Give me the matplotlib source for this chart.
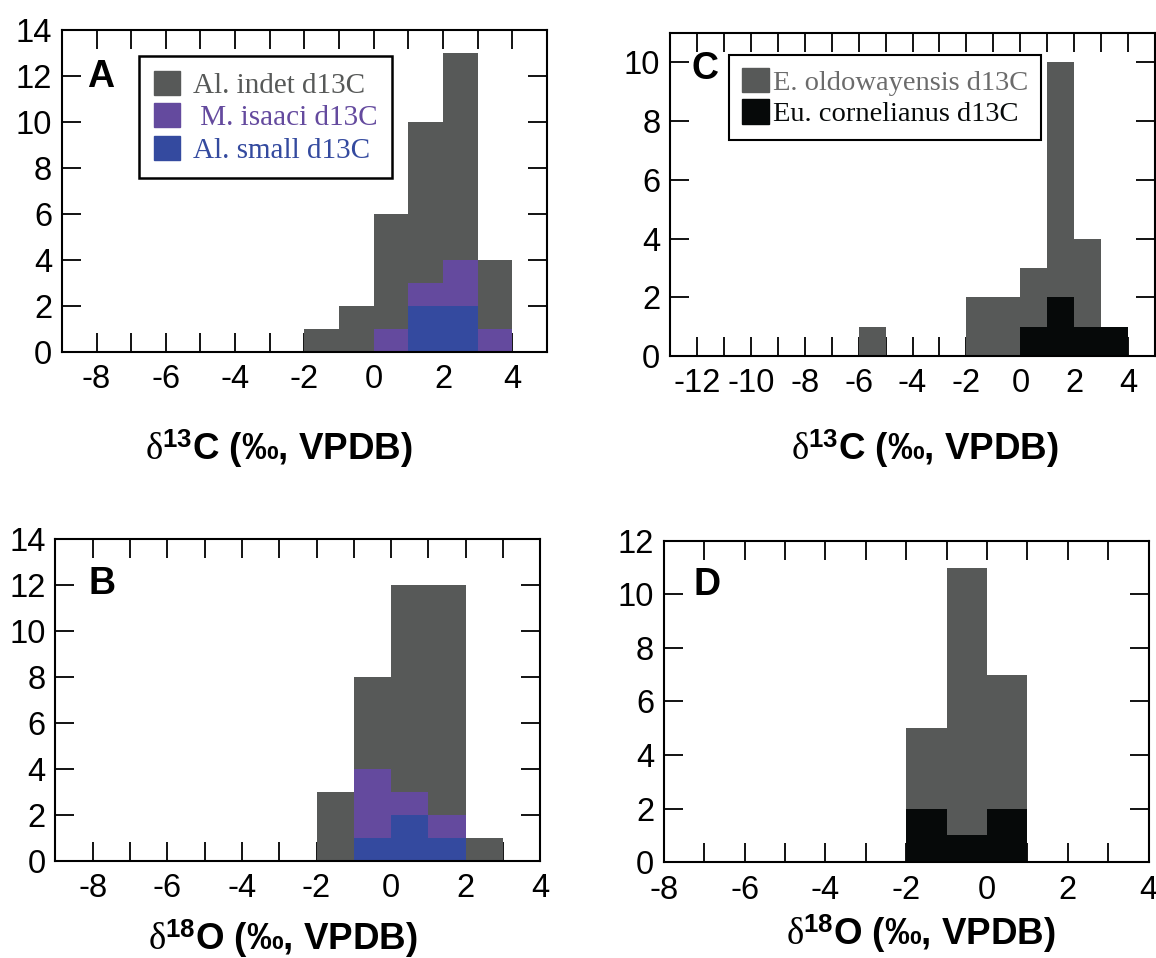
import matplotlib
matplotlib.use('Agg')
import matplotlib.pyplot as plt
from matplotlib.patches import Patch

plt.rcParams['font.family'] = ['Liberation Sans', 'DejaVu Sans']
plt.rcParams['mathtext.fontset'] = 'custom'
plt.rcParams['mathtext.rm'] = 'Liberation Serif'
plt.rcParams['mathtext.it'] = 'Liberation Serif'
plt.rcParams['mathtext.bf'] = 'Liberation Sans:bold'

GRAY = '#575958'
PURPLE = '#644a9e'
BLUE = '#344a9f'
BLACK = '#060909'

# panel A: d13C (bin left edges, width 1)
a_edges = [-2, -1, 0, 1, 2, 3]
a_indet = [1, 2, 6, 10, 13, 4]
a_isaaci = [0, 0, 1, 3, 4, 1]
a_small = [0, 0, 0, 2, 2, 0]

# panel B: d18O
b_edges = [-2, -1, 0, 1, 2]
b_indet = [3, 8, 12, 12, 1]
b_isaaci = [0, 4, 3, 2, 0]
b_small = [0, 1, 2, 1, 0]

# panel C: d13C equids
c_edges = [-6, -5, -4, -3, -2, -1, 0, 1, 2, 3]
c_oldow = [1, 0, 0, 0, 2, 2, 3, 10, 4, 1]
c_corn = [0, 0, 0, 0, 0, 0, 1, 2, 1, 1]

# panel D: d18O equids
d_edges = [-2, -1, 0]
d_oldow = [5, 11, 7]
d_corn = [2, 1, 2]

fig = plt.figure(figsize=(11.56, 9.58), dpi=100)
axA = fig.add_axes([0.0535, 0.6326, 0.4198, 0.3361])
axC = fig.add_axes([0.5796, 0.6284, 0.4196, 0.3372])
axB = fig.add_axes([0.0479, 0.1013, 0.4196, 0.3361])
axD = fig.add_axes([0.5742, 0.1002, 0.4195, 0.3351])

TICKFS = 23.5
LETTERFS = 27
LABELFS = 26.5
LEGFS = 21


def style(ax, xlim, ylim, yticks, xticks_lab):
    ax.set_xlim(*xlim)
    ax.set_ylim(*ylim)
    xt = list(range(int(xlim[0]), int(xlim[1]) + 1))
    ax.set_xticks(xt)
    ax.set_xticklabels([str(t) if t in xticks_lab else '' for t in xt])
    ax.set_yticks(yticks)
    ax.set_yticklabels([str(t) for t in yticks])
    ax.tick_params(direction='in', length=14, width=1.3, top=True, right=True,
                   labelsize=TICKFS)
    ax.tick_params(axis='x', pad=9)
    ax.tick_params(axis='y', pad=7)
    for s in ax.spines.values():
        s.set_linewidth(1.5)
    ax.set_axisbelow(True)


def xlabel(ax, txt, x, y):
    ax.set_xlabel(txt, fontsize=LABELFS, fontweight='bold')
    ax.xaxis.set_label_coords(x, y)


# A
axA.bar(a_edges, a_indet, width=1, align='edge', color=GRAY, lw=0)
axA.bar(a_edges, a_isaaci, width=1, align='edge', color=PURPLE, lw=0)
axA.bar(a_edges, a_small, width=1, align='edge', color=BLUE, lw=0)
style(axA, (-9, 5), (0, 14), range(0, 15, 2), [-8, -6, -4, -2, 0, 2, 4])
xlabel(axA, r'$\mathrm{\delta}^{\mathbf{13}}$C (‰, VPDB)', 0.447, -0.235)
axA.text(0.0515, 0.91, 'A', transform=axA.transAxes, fontsize=LETTERFS,
         fontweight='bold', ha='left', va='top')
legA = axA.legend(handles=[Patch(color=GRAY), Patch(color=PURPLE), Patch(color=BLUE)],
                  labels=['Al. indet d13C', ' M. isaaci d13C', 'Al. small d13C'],
                  loc='upper left', bbox_to_anchor=(0.159, 0.919), borderaxespad=0,
                  prop={'family': 'Liberation Serif', 'size': LEGFS},
                  handlelength=0.9, handleheight=0.9, handletextpad=0.45,
                  labelspacing=0.15, borderpad=0.5, fancybox=False, framealpha=1,
                  edgecolor='black')
legA.get_frame().set_linewidth(1.8)
for t, c in zip(legA.get_texts(), [GRAY, PURPLE, BLUE]):
    t.set_color(c)

# B
axB.bar(b_edges, b_indet, width=1, align='edge', color=GRAY, lw=0)
axB.bar(b_edges, b_isaaci, width=1, align='edge', color=PURPLE, lw=0)
axB.bar(b_edges, b_small, width=1, align='edge', color=BLUE, lw=0)
style(axB, (-9, 4), (0, 14), range(0, 15, 2), [-8, -6, -4, -2, 0, 2, 4])
xlabel(axB, r'$\mathrm{\delta}^{\mathbf{18}}$O (‰, VPDB)', 0.469, -0.175)
axB.text(0.0685, 0.915, 'B', transform=axB.transAxes, fontsize=LETTERFS,
         fontweight='bold', ha='left', va='top')

# C
axC.bar(c_edges, c_oldow, width=1, align='edge', color=GRAY, lw=0)
axC.bar(c_edges, c_corn, width=1, align='edge', color=BLACK, lw=0)
style(axC, (-13, 5), (0, 11), range(0, 11, 2), [-12, -10, -8, -6, -4, -2, 0, 2, 4])
xlabel(axC, r'$\mathrm{\delta}^{\mathbf{13}}$C (‰, VPDB)', 0.525, -0.22)
axC.text(0.045, 0.945, 'C', transform=axC.transAxes, fontsize=LETTERFS,
         fontweight='bold', ha='left', va='top')
legC = axC.legend(handles=[Patch(color=GRAY), Patch(color=BLACK)],
                  labels=['E. oldowayensis d13C', 'Eu. cornelianus d13C'],
                  loc='upper left', bbox_to_anchor=(0.1217, 0.932), borderaxespad=0,
                  prop={'family': 'Liberation Serif', 'size': 20.5},
                  handlelength=0.95, handleheight=0.95, handletextpad=0.15,
                  labelspacing=0.12, borderpad=0.45, fancybox=False, framealpha=1,
                  edgecolor='black')
legC.get_frame().set_linewidth(1.5)
for t, c in zip(legC.get_texts(), ['#6b6b6b', BLACK]):
    t.set_color(c)

# D
axD.bar(d_edges, d_oldow, width=1, align='edge', color=GRAY, lw=0)
axD.bar(d_edges, d_corn, width=1, align='edge', color=BLACK, lw=0)
style(axD, (-8, 4), (0, 12), range(0, 13, 2), [-8, -6, -4, -2, 0, 2, 4])
xlabel(axD, r'$\mathrm{\delta}^{\mathbf{18}}$O (‰, VPDB)', 0.531, -0.155)
axD.text(0.062, 0.92, 'D', transform=axD.transAxes, fontsize=LETTERFS,
         fontweight='bold', ha='left', va='top')

fig.savefig('out.png', dpi=100)
